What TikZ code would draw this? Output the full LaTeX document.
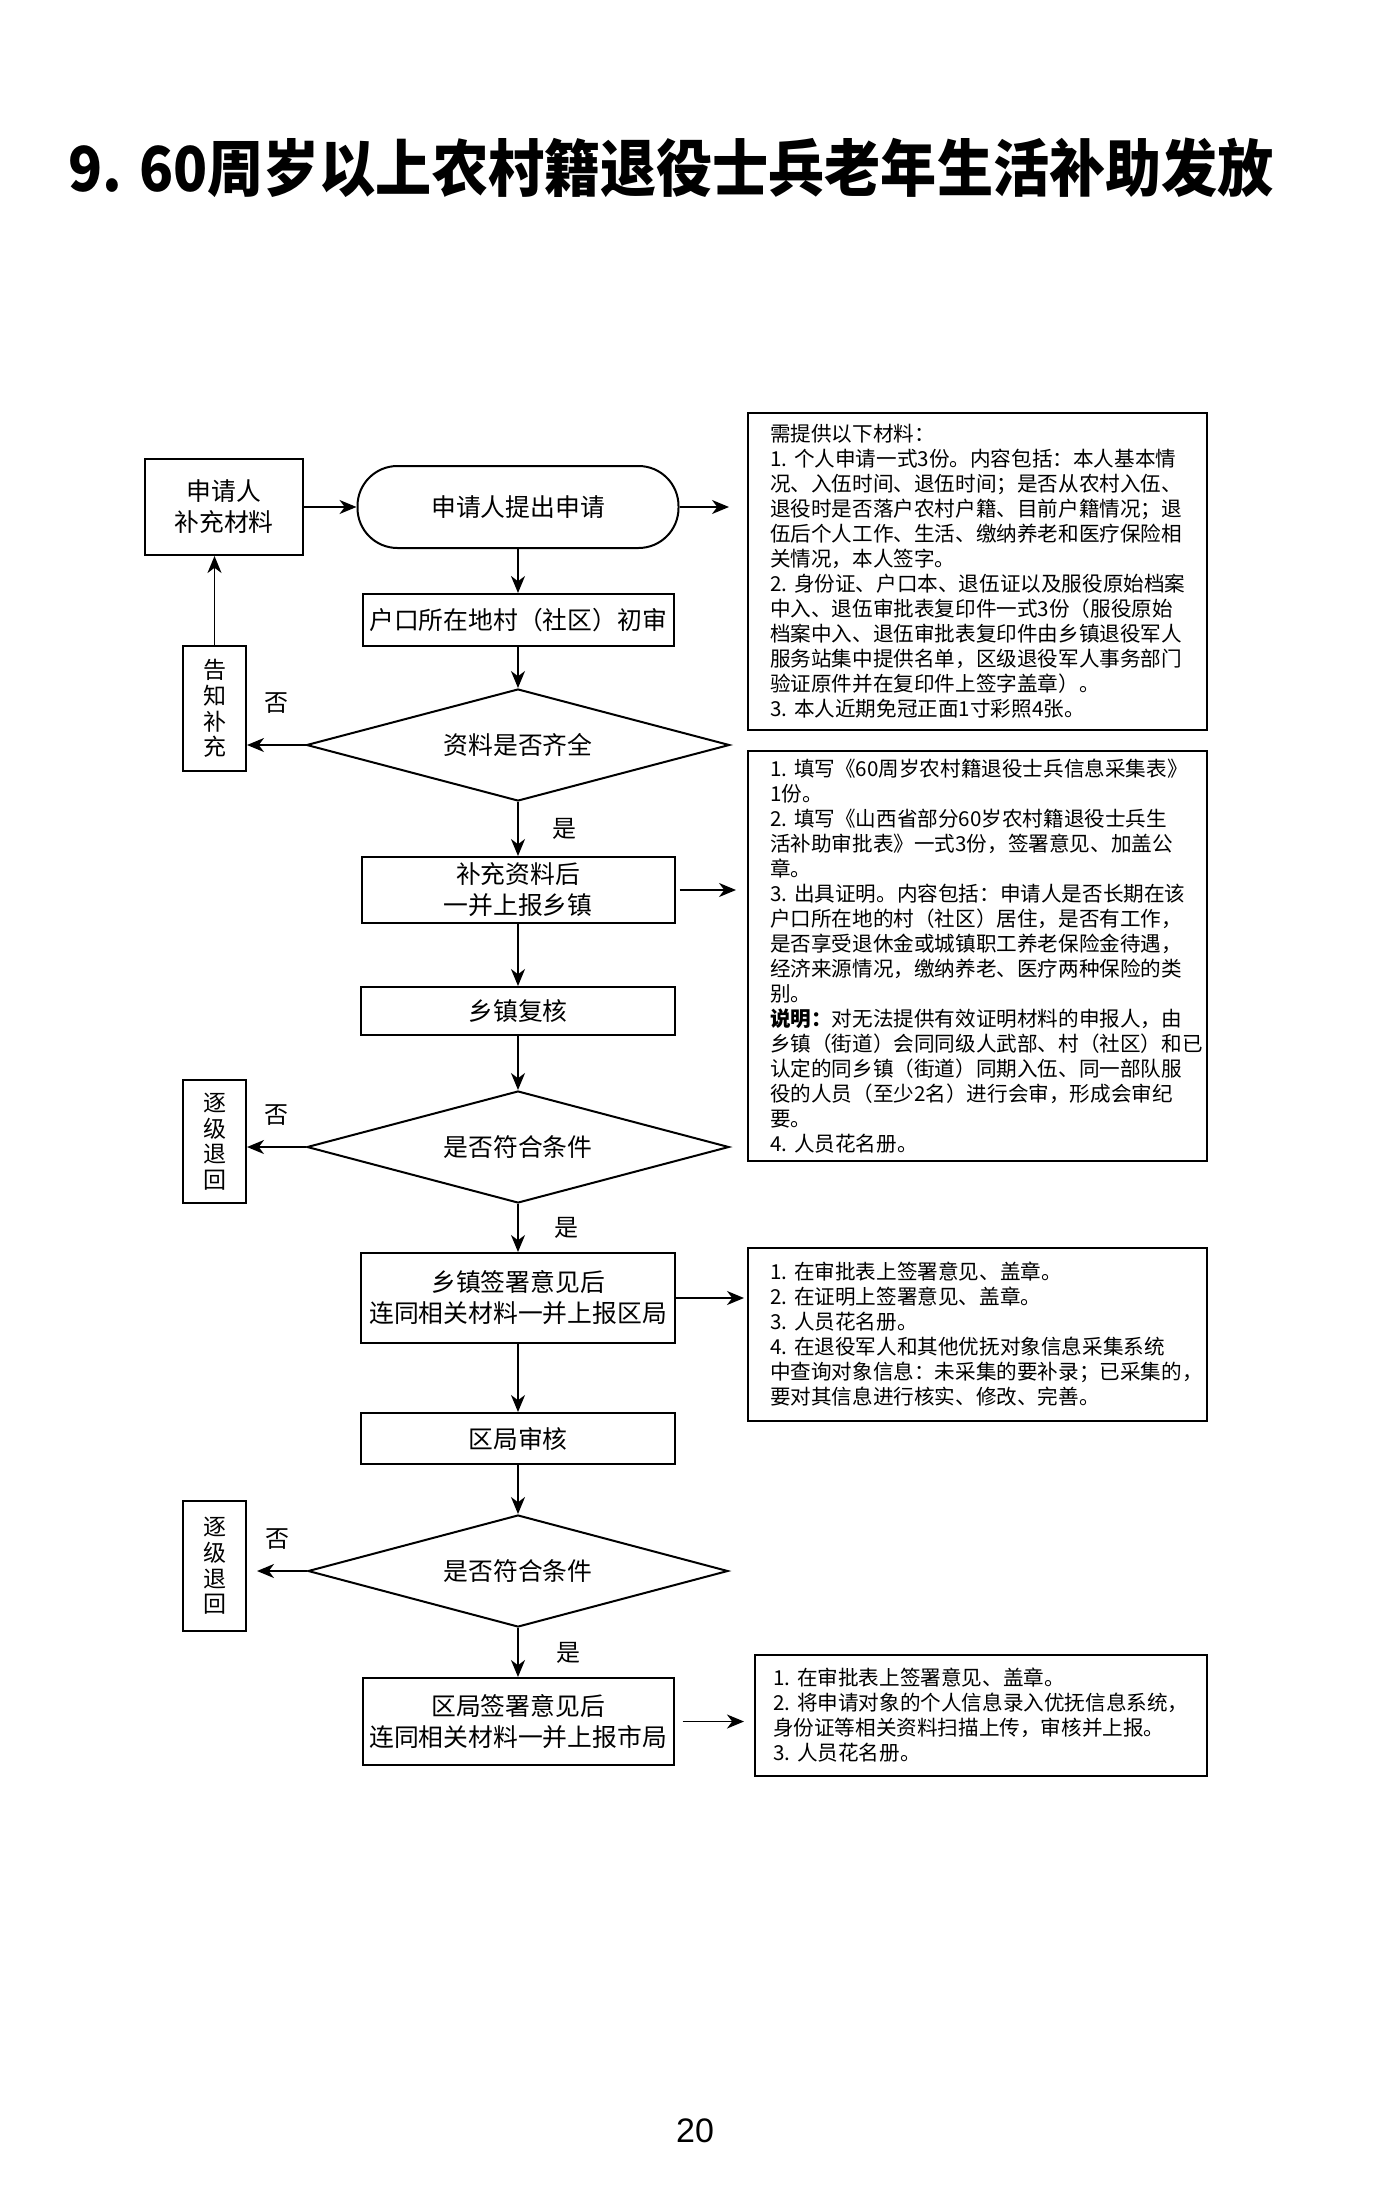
\documentclass[tikz,border=0pt]{standalone}
\usepackage{fontspec}
\setmainfont{Noto Sans CJK SC}
\newfontfamily\titlefont[FakeStretch=0.905]{Noto Sans CJK SC}
\newfontfamily\pagefont{Liberation Sans}
\usepackage{tikz}
\usetikzlibrary{arrows.meta, positioning, shapes.geometric}

\begin{document}
\begin{tikzpicture}[x=0.5pt, y=-0.5pt,
  stepbox/.style={draw, line width=1pt, font=\fontsize{12.4}{15.5}\selectfont, align=center, inner sep=0pt},
  roundbox/.style={stepbox, rounded corners=20pt},
  decision/.style={draw, diamond, shape aspect=3.8, line width=1pt, font=\fontsize{12.4}{15.5}\selectfont, inner sep=0pt},
  sidebox/.style={draw, line width=1pt, font=\fontsize{11.5}{12.8}\selectfont, align=center, inner sep=0pt, minimum width=31.5pt},
  notebox/.style={draw, line width=1pt, font=\fontsize{10.3}{12.5}\selectfont, align=left, inner xsep=0pt, inner ysep=2pt},
  lbl/.style={font=\fontsize{12}{12}\selectfont, inner sep=0pt},
  arr/.style={-{Stealth[length=8.5pt, width=7pt, inset=2.6pt]}, line width=0.9pt}
]
\useasboundingbox (0,0) rectangle (1393,2193);

% --- Title ---
\node[font=\titlefont\fontsize{31}{31}\selectfont\bfseries, inner sep=0pt] (title) at (671,168) {9. 60周岁以上农村籍退役士兵老年生活补助发放};

% --- Main column ---
\node[roundbox, minimum width=160.5pt, minimum height=41pt] (apply) at (518,507) {申请人提出申请};
\node[stepbox, minimum width=155.5pt, minimum height=26pt] (check) at (518,620) {户口所在地村（社区）初审};
\node[decision, minimum width=211.5pt, minimum height=56pt] (dia1) at (518,745) {资料是否齐全};
\node[stepbox, minimum width=156.5pt, minimum height=33pt] (submit1) at (518,890) {补充资料后\\一并上报乡镇};
\node[stepbox, minimum width=157pt, minimum height=24pt] (town) at (518,1011) {乡镇复核};
\node[decision, minimum width=211pt, minimum height=56pt] (dia2) at (518,1147) {是否符合条件};
\node[stepbox, minimum width=157pt, minimum height=45pt] (submit2) at (518,1298) {乡镇签署意见后\\连同相关材料一并上报区局};
\node[stepbox, minimum width=157pt, minimum height=25.5pt] (district) at (518,1438.5) {区局审核};
\node[decision, minimum width=210pt, minimum height=56pt] (dia3) at (518,1571) {是否符合条件};
\node[stepbox, minimum width=155.5pt, minimum height=43.5pt] (submit3) at (518,1721.5) {区局签署意见后\\连同相关材料一并上报市局};

% --- Left column ---
\node[stepbox, minimum width=79pt, minimum height=48pt] (more) at (224,507) {申请人\\补充材料};
\node[sidebox, minimum height=62.5pt] (notify) at (214.5,708.5) {告\\知\\补\\充};
\node[sidebox, minimum height=61.5pt] (back1) at (214.5,1141.5) {逐\\级\\退\\回};
\node[sidebox, minimum height=65pt] (back2) at (214.5,1566) {逐\\级\\退\\回};

% --- Notes ---
\node[notebox, minimum width=229.5pt, minimum height=158.5pt, text width=207.5pt] (info1) at (977.5,571.5) {%
需提供以下材料：\\
1.~个人申请一式3份。内容包括：本人基本情\\
况、入伍时间、退伍时间；是否从农村入伍、\\
退役时是否落户农村户籍、目前户籍情况；退\\
伍后个人工作、生活、缴纳养老和医疗保险相\\
关情况，本人签字。\\
2.~身份证、户口本、退伍证以及服役原始档案\\
中入、退伍审批表复印件一式3份（服役原始\\
档案中入、退伍审批表复印件由乡镇退役军人\\
服务站集中提供名单，区级退役军人事务部门\\
验证原件并在复印件上签字盖章）。\\
3.~本人近期免冠正面1寸彩照4张。};
\node[notebox, minimum width=229.5pt, minimum height=205pt, text width=207.5pt] (info2) at (977.5,956) {%
1.~填写《60周岁农村籍退役士兵信息采集表》\\
1份。\\
2.~填写《山西省部分60岁农村籍退役士兵生\\
活补助审批表》一式3份，签署意见、加盖公\\
章。\\
3.~出具证明。内容包括：申请人是否长期在该\\
户口所在地的村（社区）居住，是否有工作，\\
是否享受退休金或城镇职工养老保险金待遇，\\
经济来源情况，缴纳养老、医疗两种保险的类\\
别。\\
\textbf{说明：}对无法提供有效证明材料的申报人，由\\
乡镇（街道）会同同级人武部、村（社区）和已\\
认定的同乡镇（街道）同期入伍、同一部队服\\
役的人员（至少2名）进行会审，形成会审纪\\
要。\\
4.~人员花名册。};
\node[notebox, minimum width=229.5pt, minimum height=86.5pt, text width=207.5pt] (info3) at (977.5,1334.5) {%
1.~在审批表上签署意见、盖章。\\
2.~在证明上签署意见、盖章。\\
3.~人员花名册。\\
4.~在退役军人和其他优抚对象信息采集系统\\
中查询对象信息：未采集的要补录；已采集的，\\
要对其信息进行核实、修改、完善。};
\node[notebox, minimum width=226pt, minimum height=60.5pt, text width=208pt] (info4) at (981,1715.5) {%
1.~在审批表上签署意见、盖章。\\
2.~将申请对象的个人信息录入优抚信息系统，\\
身份证等相关资料扫描上传，审核并上报。\\
3.~人员花名册。};

% --- Connectors ---
\draw[arr] (more.east) -- (apply.west);
\draw[arr] (apply) -- (check);
\draw[arr] (check) -- (dia1);
\draw[arr] (dia1) -- (submit1) node[lbl, midway, xshift=23pt] (yes1) {是};
\draw[arr] (dia1.west) -- (dia1.west -| notify.east) node[lbl, midway, yshift=21pt] (no1) {否};
\draw[arr] (notify.north) -- (notify.north |- more.south);
\draw[arr] (submit1) -- (town);
\draw[arr] (town) -- (dia2);
\draw[arr] (dia2) -- (submit2) node[lbl, midway, xshift=24pt] (yes2) {是};
\draw[arr] (dia2.west) -- (dia2.west -| back1.east) node[lbl, midway, yshift=16pt] (no2) {否};
\draw[arr] (submit2) -- (district);
\draw[arr] (district) -- (dia3);
\draw[arr] (dia3) -- (submit3) node[lbl, midway, xshift=25pt] (yes3) {是};
\draw[arr, shorten >=5pt] (dia3.west) -- (dia3.west -| back2.east) node[lbl, midway, yshift=16pt] (no3) {否};

% --- To the notes ---
\draw[arr, shorten >=9pt] (apply.east) -- (apply.east -| info1.west);
\draw[arr, shorten <=2pt, shorten >=5.5pt] (submit1.east) -- (submit1.east -| info2.west);
\draw[arr, shorten >=1.5pt] (submit2.east) -- (submit2.east -| info3.west);
\draw[arr, shorten <=4pt, shorten >=5pt] (submit3.east) -- (submit3.east -| info4.west);

% --- Page number ---
\node[font=\pagefont\fontsize{17}{17}\selectfont, inner sep=0pt] (pagenum) at (695,2131) {20};

\end{tikzpicture}
\end{document}
